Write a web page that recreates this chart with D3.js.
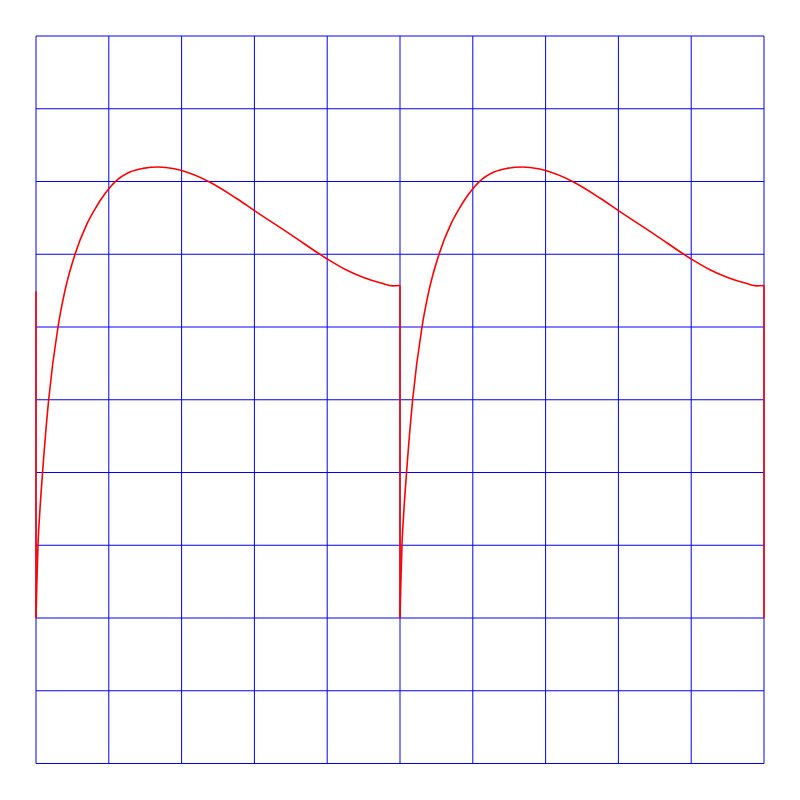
<!DOCTYPE html>
<html>
<head>
<meta charset="utf-8">
<script src="https://cdn.jsdelivr.net/npm/d3@7"></script>
<style>
html,body{margin:0;padding:0;background:#fff;}
svg{display:block;}
</style>
</head>
<body>
<svg id="chart" width="800" height="800"></svg>
<script>
// Grid tick values
const xTicks = [0,1,2,3,4,5,6,7,8,9,10];
const yTicks = [-2,-1,0,1,2,3,4,5,6,7,8];

// Waveform samples (time, value)
const xValues = [
  0, 0, 0.01, 0.027, 0.055, 0.09, 0.174, 0.302, 0.4, 0.536, 0.697, 0.81, 0.88, 1.0, 1.086, 1.29, 1.47, 1.68, 1.9, 2.0, 2.37, 2.75, 3.0, 3.5, 4.0, 4.25, 4.5, 4.75, 4.9, 5.0,
  5.0, 5.01, 5.027, 5.055, 5.09, 5.174, 5.302, 5.4, 5.536, 5.697, 5.81, 5.88, 6.0, 6.086, 6.29, 6.47, 6.68, 6.9, 7.0, 7.37, 7.75, 8.0, 8.5, 9.0, 9.25, 9.5, 9.75, 9.9, 10.0,
  10.0
];
const yValues = [
  4.49, 0, 0.42, 1.0, 1.5, 2.0, 3.0, 4.0, 4.51, 5.0, 5.41, 5.62, 5.735, 5.9, 5.995, 6.13, 6.18, 6.2, 6.175, 6.15, 6.0, 5.77, 5.6, 5.27, 4.935, 4.79, 4.68, 4.6, 4.565, 4.57,
  0, 0.42, 1.0, 1.5, 2.0, 3.0, 4.0, 4.51, 5.0, 5.41, 5.62, 5.735, 5.9, 5.995, 6.13, 6.18, 6.2, 6.175, 6.15, 6.0, 5.77, 5.6, 5.27, 4.935, 4.79, 4.68, 4.6, 4.565, 4.57,
  0
];

const svg = d3.select("#chart");
const x = d3.scaleLinear().domain([0,10]).range([36, 764]);
const y = d3.scaleLinear().domain([-2,8]).range([763.5, 36]);

// grid
const g = svg.append("g");
g.selectAll("line.v").data(xTicks).join("line")
  .attr("x1", d => x(d)).attr("x2", d => x(d))
  .attr("y1", y(-2)).attr("y2", y(8))
  .attr("stroke", "#0000ff").attr("stroke-width", 1);
g.selectAll("line.h").data(yTicks).join("line")
  .attr("y1", d => y(d)).attr("y2", d => y(d))
  .attr("x1", x(0)).attr("x2", x(10))
  .attr("stroke", "#0000ff").attr("stroke-width", 1);

// split into smooth pieces and vertical jumps
const pts = xValues.map((t,i) => [t, yValues[i]]);
const pieces = [];
const jumps = [];
let cur = [pts[0]];
for (let i = 1; i < pts.length; i++) {
  if (pts[i][0] === pts[i-1][0]) {
    jumps.push([pts[i-1], pts[i]]);
    if (cur.length > 1) pieces.push(cur);
    cur = [pts[i]];
  } else {
    cur.push(pts[i]);
  }
}
if (cur.length > 1) pieces.push(cur);

const smooth = d3.line().x(d => x(d[0])).y(d => y(d[1])).curve(d3.curveMonotoneX);
const straight = d3.line().x(d => x(d[0])).y(d => y(d[1]));

svg.append("g").selectAll("path.p").data(pieces).join("path")
  .attr("d", smooth).attr("fill", "none")
  .attr("stroke", "#ff0000").attr("stroke-width", 1.6);
svg.append("g").selectAll("path.j").data(jumps).join("path")
  .attr("d", straight).attr("fill", "none")
  .attr("stroke", "#ff0000").attr("stroke-width", 1.6);
</script>
</body>
</html>
